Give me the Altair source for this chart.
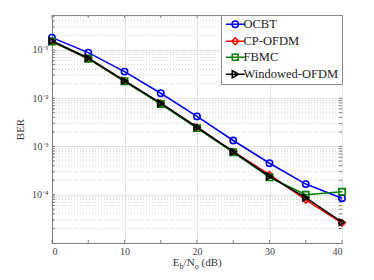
import altair as alt
import pandas as pd

# ---- data ----
ebno = [0, 5, 10, 15, 20, 25, 30, 35, 40]
series_names = ["OCBT", "CP-OFDM", "FBMC", "Windowed-OFDM"]
ocbt = [0.18, 0.088, 0.0356, 0.0127, 0.0042, 0.00133, 4.5e-4, 1.66e-4, 8.5e-5]
cp_ofdm = [0.15, 0.066, 0.0225, 0.0078, 0.0025, 7.8e-4, 2.6e-4, 7.8e-5, 2.6e-5]
fbmc = [0.15, 0.066, 0.0225, 0.0076, 0.0024, 7.6e-4, 2.3e-4, 1.0e-4, 1.15e-4]
windowed = [0.153, 0.068, 0.023, 0.0079, 0.0025, 7.8e-4, 2.4e-4, 8.7e-5, 2.7e-5]
colors = ["#0000ff", "#ff0000", "#008000", "#000000"]
shapes = ["circle", "diamond", "square", "triangle-right"]
legend_paths = [
    "M-2.7,0H2.7M0.914,0A0.914,0.914,0,1,1,-0.914,0A0.914,0.914,0,1,1,0.914,0",
    "M-2.7,0H2.7M0,-1L1,0L0,1L-1,0Z",
    "M-2.7,0H2.7M-0.857,-0.857H0.857V0.857H-0.857Z",
    "M-2.7,0H2.7M-0.857,-1L1,0L-0.857,1Z",
]
x_ticks = [0, 5, 10, 15, 20, 25, 30, 35, 40]
y_major = [1e-1, 1e-2, 1e-3, 1e-4]
y_minor = [m * 10.0 ** d for d in range(-5, 0) for m in range(2, 10) if m * 10.0 ** d <= 0.53]
y_all = y_minor + y_major

W, H = 290, 228
FONT = "Liberation Serif"
AX = "#7f7f7f"

rows = []
for name, vals in zip(series_names, [ocbt, cp_ofdm, fbmc, windowed]):
    for xv, yv in zip(ebno, vals):
        rows.append({"ebno": xv, "ber": yv, "series": name})
df = pd.DataFrame(rows)

xs = alt.Scale(domain=[0, 40], nice=False)
ys = alt.Scale(type="log", domain=[1e-5, 0.53], nice=False)

base = alt.Chart(df)

xaxis = alt.Axis(values=x_ticks, grid=True, gridColor="#e4e4e4", gridWidth=1,
                 ticks=False, labelPadding=3, domainColor=AX, labelFont=FONT,
                 labelFontSize=10, labelColor="#444", title=None)
label_expr = ("datum.value > 0.05 ? '10⁻¹' : datum.value > 0.005 ? '10⁻²' : "
              "datum.value > 0.0005 ? '10⁻³' : '10⁻⁴'")
yaxis = alt.Axis(values=y_major, grid=True, gridColor="#e4e4e4", gridWidth=1,
                 ticks=False, labelPadding=4, domainColor=AX, labelFont=FONT,
                 labelFontSize=10, labelColor="#444", labelExpr=label_expr,
                 title="BER", titleFont=FONT, titleFontSize=11, titleFontWeight="normal",
                 titleColor="#333", titlePadding=6)

# minor dotted grid
minor_df = pd.DataFrame({"v": y_minor})
minor = alt.Chart(minor_df).mark_rule(color="#cfcfcf", strokeDash=[1, 2], strokeWidth=1).encode(
    y=alt.Y("v:Q", scale=ys, axis=yaxis))

# axes carrier (major grid + labels)
axes = base.mark_point(opacity=0).encode(
    x=alt.X("ebno:Q", scale=xs, axis=xaxis),
    y=alt.Y("ber:Q", scale=ys, axis=yaxis))

# inward ticks
xt_df = pd.DataFrame({"v": x_ticks})
yt_df = pd.DataFrame({"v": y_all})
tick_style = dict(color=AX, strokeWidth=1)
xt_bot = alt.Chart(xt_df).mark_rule(**tick_style).encode(
    x=alt.X("v:Q", scale=xs), y=alt.value(H), y2=alt.value(H - 3))
xt_top = alt.Chart(xt_df).mark_rule(**tick_style).encode(
    x=alt.X("v:Q", scale=xs), y=alt.value(0), y2=alt.value(3))
yt_left = alt.Chart(yt_df).mark_rule(**tick_style).encode(
    y=alt.Y("v:Q", scale=ys), x=alt.value(0), x2=alt.value(3))
yt_right = alt.Chart(yt_df).mark_rule(**tick_style).encode(
    y=alt.Y("v:Q", scale=ys), x=alt.value(W), x2=alt.value(W - 3))

layers = [minor, axes, xt_bot, xt_top, yt_left, yt_right]

for name, col, shp in zip(series_names, colors, shapes):
    sub = base.transform_filter(alt.datum.series == name)
    line = sub.mark_line(color=col, strokeWidth=1.6).encode(
        x=alt.X("ebno:Q", scale=xs), y=alt.Y("ber:Q", scale=ys))
    pts = sub.mark_point(shape=shp, color=col, filled=False, size=40, strokeWidth=1.6,
                         opacity=1).encode(
        x=alt.X("ebno:Q", scale=xs), y=alt.Y("ber:Q", scale=ys))
    layers += [line, pts]

leg = alt.Legend(title=None, orient="top-right", offset=0, padding=3, rowPadding=3,
                 symbolOffset=5, labelOffset=2, labelFont=FONT, labelFontSize=12.5,
                 labelColor="#222", strokeColor="#888", fillColor="white",
                 symbolOpacity=1, symbolStrokeWidth=1.5, symbolSize=49,
                 symbolFillColor="transparent")
dummy = base.mark_point(opacity=0, filled=False, size=49).encode(
    x=alt.X("ebno:Q", scale=xs), y=alt.Y("ber:Q", scale=ys),
    stroke=alt.Stroke("series:N", scale=alt.Scale(domain=series_names, range=colors),
                      sort=series_names, legend=leg),
    shape=alt.Shape("series:N", scale=alt.Scale(domain=series_names, range=legend_paths),
                    sort=series_names, legend=leg))
layers.append(dummy)

# x-axis title with subscripts
one = pd.DataFrame({"a": [0]})
x0 = W / 2 - 24.3
ty = H + 23
def txt(s, x, y, size):
    return alt.Chart(one).mark_text(font=FONT, fontSize=size, align="left",
                                    baseline="alphabetic", color="#333").encode(
        x=alt.value(x), y=alt.value(y), text=alt.value(s))
layers += [
    txt("E", x0, ty, 11),
    txt("b", x0 + 6.9, ty + 2.5, 8),
    txt("/N", x0 + 10.9, ty, 11),
    txt("o", x0 + 22.1, ty + 2.5, 8),
    txt("(dB)", x0 + 28.9, ty, 11),
]

chart = alt.layer(*layers).properties(
    width=W, height=H,
    autosize=alt.AutoSizeParams(type="none"),
    padding={"left": 44, "top": 7, "right": 20, "bottom": 29},
).configure_view(stroke=AX, strokeWidth=1).configure_legend(labelFont=FONT)

chart.save("out.html", embed_options={"renderer": "svg", "actions": False})
